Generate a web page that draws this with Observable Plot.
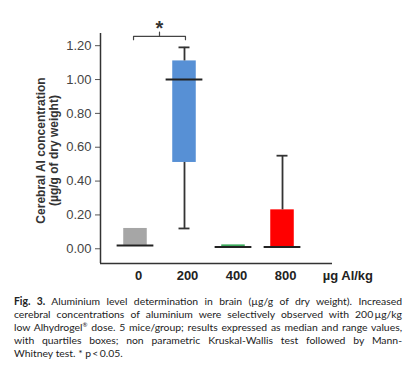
<!DOCTYPE html>
<html>
<head>
<meta charset="utf-8">
<script src="https://cdn.jsdelivr.net/npm/d3@7"></script>
<script src="https://cdn.jsdelivr.net/npm/@observablehq/plot@0.6"></script>
<style>
  body { margin: 0; background: #fff; width: 417px; height: 373px; overflow: hidden; }
  #chart svg { display: block; }
  #chart g[aria-label="x-axis tick label"] text { font-weight: bold; fill: #222; }
  #chart g[aria-label="y-axis tick label"] text { fill: #444; }
  .caption { padding: 10px 0 0 14px; width: 388px; font-family: Lato, "Open Sans", sans-serif; font-size: 10.4px; line-height: 13px; color: #222; }
  .caption div { text-align: justify; text-align-last: justify; white-space: nowrap; }
  .caption div.last { text-align-last: left; }
  .caption sup { font-size: 6px; vertical-align: 4px; line-height: 0; }
</style>
</head>
<body>
<div id="chart"></div>
<div class="caption">
  <div><b>Fig. 3.</b> Aluminium level determination in brain (µg/g of dry weight). Increased</div>
  <div>cerebral concentrations of aluminium were selectively observed with 200&#8201;µg/kg</div>
  <div>low Alhydrogel<sup>®</sup> dose. 5 mice/group; results expressed as median and range values,</div>
  <div>with quartiles boxes; non parametric Kruskal-Wallis test followed by Mann-</div>
  <div class="last">Whitney test. * p&#8201;&lt;&#8201;0.05.</div>
</div>
<script>
// ---- data ----
const groups  = ["0", "200", "400", "800"];
const colors  = ["#a6a6a6", "#5790d5", "#3caa5c", "#ff0000"];
const medians = [0.02, 1.00, 0.01, 0.01];
const q1      = [0.02, 0.51, 0.01, 0.01];
const q3      = [0.12, 1.11, 0.023, 0.23];
const mins    = [0.02, 0.12, 0.01, 0.01];
const maxs    = [0.12, 1.19, 0.023, 0.55];
const yTicks  = [0, 0.2, 0.4, 0.6, 0.8, 1.0, 1.2];
const unitLabel = "µg Al/kg";
const yLabel = "Cerebral Al concentration\n(µg/g of dry weight)";
const comparisons = [{from: 0, to: 1, label: "*"}];

// ---- layout/style ----
const xDomain = [-0.714, 4.02];
const yDomain = [-0.087, 1.272];
const boxHalf = 0.24, medHalf = 0.375, capHalf = 0.112;

const rows = groups.map((g, i) => ({
  i, g, color: colors[i], median: medians[i], q1: q1[i], q3: q3[i], min: mins[i], max: maxs[i]
}));
const lowerW = rows.filter(d => d.min < d.q1);
const upperW = rows.filter(d => d.max > d.q3);

const bracketY = 1.255, legY = 1.235, notchY = 1.28;
const bracketPts = comparisons.flatMap(c => {
  const a = c.from - 0.04, b = c.to + 0.02, m = (a + b) / 2;
  return [[a, legY], [a, bracketY], [m, bracketY], [m, notchY], [m, bracketY], [b, bracketY], [b, legY]];
});

const plot = Plot.plot({
  width: 417,
  height: 285,
  marginLeft: 100,
  marginRight: 85,
  marginTop: 33,
  marginBottom: 22,
  style: {fontFamily: "Arial, 'Liberation Sans', sans-serif", fontSize: "13px", color: "#333", background: "#fff"},
  x: {type: "linear", domain: xDomain, axis: null},
  y: {domain: yDomain, axis: null},
  marks: [
    Plot.axisY({ticks: yTicks, tickFormat: d => d.toFixed(2), tickSize: 5, tickPadding: 4, stroke: "#555", fontSize: 13, label: null}),
    Plot.axisX({ticks: [0, 1, 2, 3], tickFormat: i => groups[i], tickSize: 0, tickPadding: 7, dx: 3, fontSize: 13, fontWeight: "bold", label: null}),
    Plot.text([unitLabel], {x: () => 3.82, y: () => yDomain[0], text: d => d, textAnchor: "start", lineAnchor: "top", dy: 7, fontWeight: "bold", fontSize: 13, fill: "#222"}),
    Plot.text([yLabel], {frameAnchor: "left", text: d => d, rotate: -90, dx: -53, dy: 2, textAnchor: "middle", lineAnchor: "middle", lineHeight: 1.05, fontWeight: "bold", fontSize: 12, fill: "#333"}),
    Plot.ruleX([xDomain[0]], {x: d => d, y1: yDomain[0], y2: yDomain[1], stroke: "#333", strokeWidth: 1.5}),
    Plot.ruleY([yDomain[0]], {y: d => d, x1: xDomain[0], x2: xDomain[1], stroke: "#333", strokeWidth: 1.5}),
    Plot.rectY(rows, {x1: d => d.i - boxHalf, x2: d => d.i + boxHalf, y1: "q1", y2: "q3", fill: "color"}),
    Plot.ruleX(lowerW, {x: "i", y1: "min", y2: "q1", stroke: "#333", strokeWidth: 1.8}),
    Plot.ruleX(upperW, {x: "i", y1: "q3", y2: "max", stroke: "#333", strokeWidth: 1.8}),
    Plot.ruleY(lowerW, {y: "min", x1: d => d.i - capHalf, x2: d => d.i + capHalf, stroke: "#333", strokeWidth: 1.8}),
    Plot.ruleY(upperW, {y: "max", x1: d => d.i - capHalf, x2: d => d.i + capHalf, stroke: "#333", strokeWidth: 1.8}),
    Plot.ruleY(rows, {y: "median", x1: d => d.i - medHalf, x2: d => d.i + medHalf, stroke: "#222", strokeWidth: 2}),
    Plot.line(bracketPts, {x: d => d[0], y: d => d[1], stroke: "#444", strokeWidth: 1.2}),
    Plot.text(comparisons, {x: c => (c.from - 0.04 + c.to + 0.02) / 2, y: () => 1.30, text: "label", fontSize: 20, fontWeight: "bold", fill: "#333", lineAnchor: "middle"})
  ]
});
document.getElementById("chart").appendChild(plot);
</script>
</body>
</html>
